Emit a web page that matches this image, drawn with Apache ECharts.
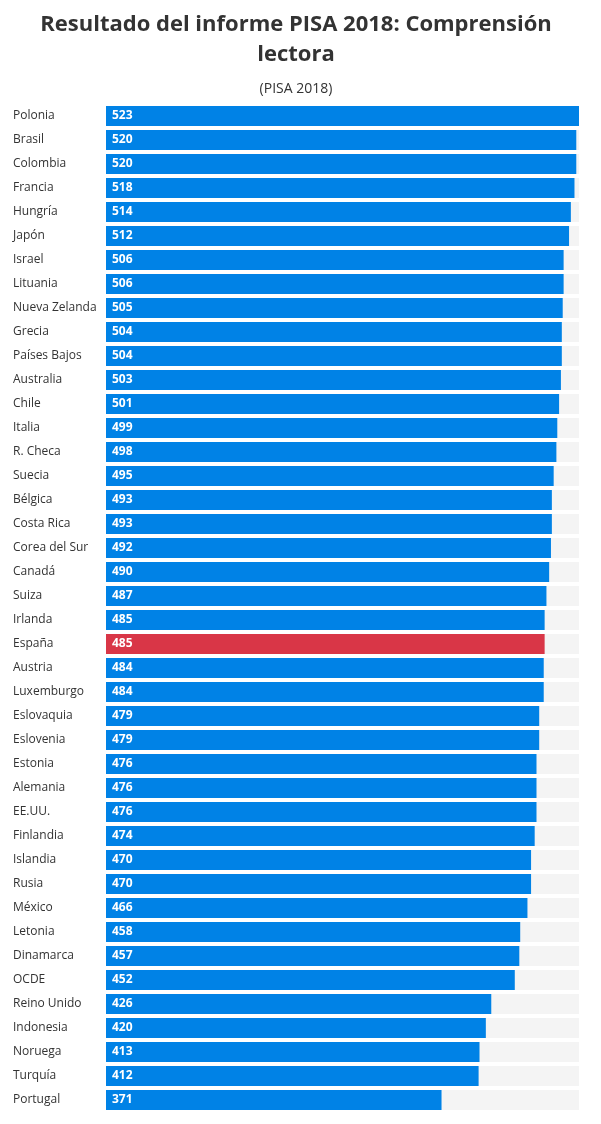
<!DOCTYPE html>
<html>
<head>
	<meta charset="utf-8" />
	<title>PISA 2018</title>
	<style>
		html, body { margin: 0; padding: 0; background: #fff; }
		#chart { width: 601px; height: 1124px; }
	</style>
</head>
<body>
	<div id="chart"></div>
	<script src="https://cdn.jsdelivr.net/npm/echarts@6/dist/echarts.min.js"></script>
	<script type="text/javascript">
		// datos del gráfico
		var paises = ['Polonia', 'Brasil', 'Colombia', 'Francia', 'Hungría', 'Japón', 'Israel', 'Lituania',
			'Nueva Zelanda', 'Grecia', 'Países Bajos', 'Australia', 'Chile', 'Italia', 'R. Checa', 'Suecia',
			'Bélgica', 'Costa Rica', 'Corea del Sur', 'Canadá', 'Suiza', 'Irlanda', 'España', 'Austria',
			'Luxemburgo', 'Eslovaquia', 'Eslovenia', 'Estonia', 'Alemania', 'EE.UU.', 'Finlandia', 'Islandia',
			'Rusia', 'México', 'Letonia', 'Dinamarca', 'OCDE', 'Reino Unido', 'Indonesia', 'Noruega',
			'Turquía', 'Portugal'];
		var puntos = [523, 520, 520, 518, 514, 512, 506, 506, 505, 504, 504, 503, 501, 499, 498, 495,
			493, 493, 492, 490, 487, 485, 485, 484, 484, 479, 479, 476, 476, 476, 474, 470,
			470, 466, 458, 457, 452, 426, 420, 413, 412, 371];
		var destacado = 'España';

		var azul = '#0082e6';
		var rojo = '#d93647';

		var chart = echarts.init(document.getElementById('chart'));

		var datos = puntos.map(function (v, i) {
			return {
				value: v,
				itemStyle: { color: paises[i] == destacado ? rojo : azul }
			};
		});

		var option = {
			animation: false,
			textStyle: { fontFamily: 'Open Sans' },
			title: [{
				text: 'Resultado del informe PISA 2018: Comprensión\nlectora',
				left: 296,
				textAlign: 'center',
				top: 10,
				padding: 0,
				textStyle: {
					fontFamily: 'Open Sans',
					fontSize: 22,
					fontWeight: 'bold',
					lineHeight: 30,
					color: '#333'
				}
			}, {
				text: '(PISA 2018)',
				left: 296,
				textAlign: 'center',
				top: 82,
				padding: 0,
				textStyle: {
					fontFamily: 'Open Sans',
					fontSize: 14,
					fontWeight: 'normal',
					color: '#333'
				}
			}],
			grid: {
				left: 106,
				right: 22,
				top: 104,
				bottom: 12,
				containLabel: false
			},
			xAxis: {
				type: 'value',
				min: 0,
				max: 523,
				show: false
			},
			yAxis: {
				type: 'category',
				data: paises,
				inverse: true,
				axisLine: { show: false },
				axisTick: { show: false },
				axisLabel: {
					align: 'left',
					margin: 93,
					fontFamily: 'Open Sans',
					fontSize: 12,
					color: '#333'
				}
			},
			series: [{
				type: 'bar',
				data: datos,
				barWidth: 20,
				showBackground: true,
				backgroundStyle: { color: '#f4f4f4' },
				label: {
					show: true,
					position: 'insideLeft',
					distance: 6,
					color: '#fff',
					fontFamily: 'Open Sans',
					fontSize: 12,
					fontWeight: 'bold'
				}
			}]
		};
		chart.setOption(option);
	</script>
</body>
</html>
